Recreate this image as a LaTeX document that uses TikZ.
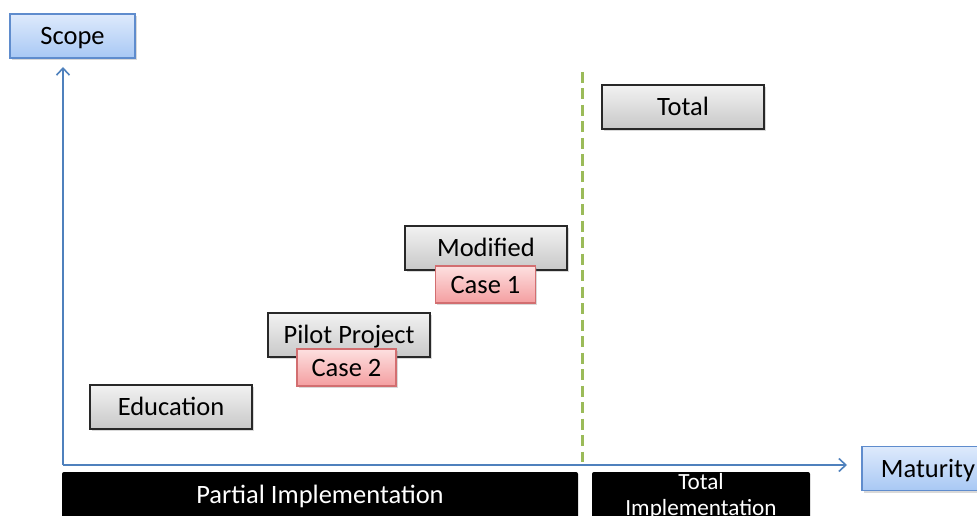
\documentclass[tikz,border=0pt]{standalone}
\usepackage{fontspec}
\setmainfont{Carlito}
\usetikzlibrary{shadows,arrows.meta}

\begin{document}
\begin{tikzpicture}[x=1pt,y=-1pt,
  boxBase/.style={inner sep=0pt,line width=1.2pt,font=\fontsize{26.5}{30}\selectfont,
    text height=20pt,text depth=3pt,
    drop shadow={shadow xshift=1.5pt,shadow yshift=-2pt,opacity=0.3}},
  grayBox/.style={boxBase,draw=grayLine,top color=grayTop,bottom color=grayBot,
    minimum width=162pt,minimum height=44pt},
  blueBox/.style={boxBase,draw=blueLine,top color=blueTop,bottom color=blueBot,
    minimum height=44pt},
  pinkBox/.style={boxBase,draw=pinkLine,top color=pinkTop,bottom color=pinkBot,
    minimum width=99pt,minimum height=37pt},
  barBox/.style={fill=black,text=white,inner sep=0pt,rounded corners=2pt,minimum height=48pt},
  axisLine/.style={draw=axisColor,line width=2.2pt,-{Straight Barb[length=7pt,width=13pt,line width=1.6pt]}},
  dashLine/.style={draw=dashColor,line width=3pt,dash pattern=on 11pt off 5.5pt}]
\definecolor{grayLine}{RGB}{40,40,40}
\definecolor{grayTop}{RGB}{242,242,242}
\definecolor{grayBot}{RGB}{200,200,200}
\definecolor{blueLine}{RGB}{95,140,205}
\definecolor{blueTop}{RGB}{222,234,252}
\definecolor{blueBot}{RGB}{168,200,244}
\definecolor{pinkLine}{RGB}{210,110,112}
\definecolor{pinkTop}{RGB}{253,224,224}
\definecolor{pinkBot}{RGB}{244,158,160}
\definecolor{axisColor}{RGB}{79,129,189}
\definecolor{dashColor}{RGB}{155,187,89}
\useasboundingbox (0,0) rectangle (977,516);
% axes and divider
\coordinate (origin) at (63,465);
\coordinate (yTip) at (63,67);
\coordinate (xTip) at (847,465);
\coordinate (dashTop) at (582,72);
\coordinate (dashBot) at (582,462);
\draw[axisLine] (origin) -- (yTip);
\draw[axisLine] (origin) -- (xTip);
\draw[dashLine] (dashTop) -- (dashBot);
% axis labels
\node[blueBox,minimum width=125pt] (scope) at (72.5,36) {Scope};
\node[blueBox,minimum width=132pt] (maturity) at (928,468.5) {Maturity};
% stages
\node[grayBox] (education) at (171,407) {Education};
\node[grayBox] (pilot) at (349,335) {Pilot Project};
\node[pinkBox] (caseTwo) at (346.5,367.5) {Case 2};
\node[grayBox] (modified) at (486,248) {Modified};
\node[pinkBox,minimum width=100pt] (caseOne) at (485.5,284.5) {Case 1};
\node[grayBox] (total) at (683,107) {Total};
% phases
\node[barBox,minimum width=516pt,font=\fontsize{26.5}{30}\selectfont] (partial) at (320,496) {Partial Implementation};
\node[barBox,minimum width=218pt,align=center,font=\fontsize{23.2}{26}\selectfont] (totalImpl) at (701,496) {Total\\Implementation};
\end{tikzpicture}
\end{document}
